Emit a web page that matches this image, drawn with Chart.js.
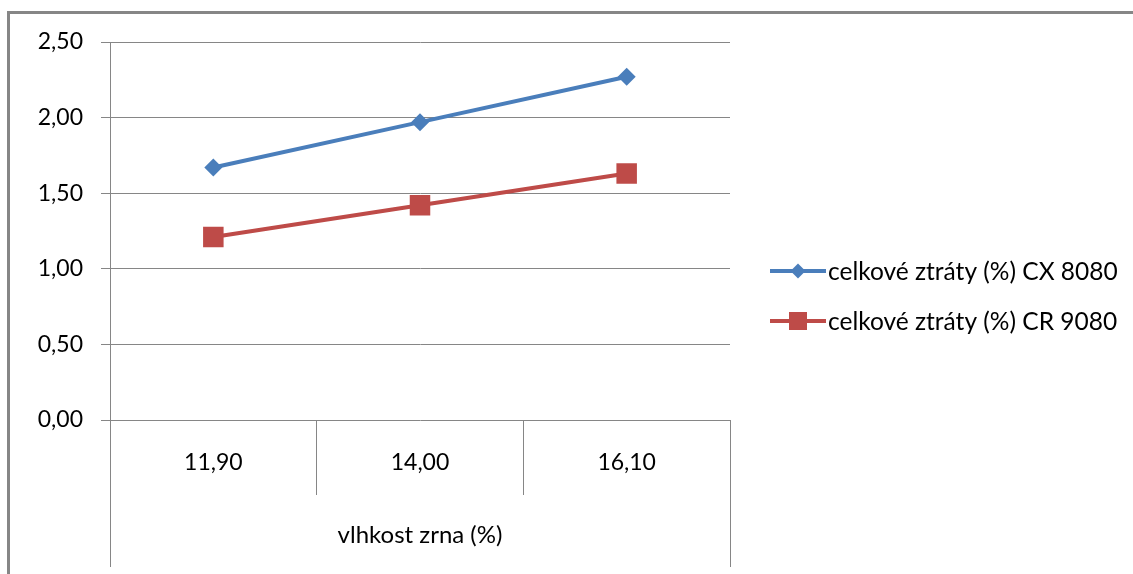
<!DOCTYPE html>
<html>
<head>
<meta charset="utf-8">
<title>celkové ztráty</title>
<script src="https://cdn.jsdelivr.net/npm/chart.js@4/dist/chart.umd.min.js"></script>
<style>
  html, body { margin: 0; padding: 0; background: #ffffff; }
  #wrap { width: 1133px; height: 574px; }
</style>
</head>
<body>
<div id="wrap"><canvas id="c" width="1133" height="574"></canvas></div>
<script>
// Categories: grain moisture (%)
const moisture = ['11,90', '14,00', '16,10'];
// Total losses (%) per combine harvester
const lossCX8080 = [1.67, 1.97, 2.27];
const lossCR9080 = [1.21, 1.42, 1.63];
const seriesNames = ['celkové ztráty (%) CX 8080', 'celkové ztráty (%) CR 9080'];
const xTitle = 'vlhkost zrna (%)';

const FONT = 'Lato, "Liberation Sans", sans-serif';
const GRID = '#868686';

// Outer frame, the full-height outer category lines and the side legend
const decorations = {
  id: 'decorations',
  beforeDraw(chart) {
    const ctx = chart.ctx;
    ctx.save();
    ctx.strokeStyle = GRID;
    ctx.lineWidth = 3;
    ctx.strokeRect(8.5, 12.5, 2000, 2000);
    ctx.restore();
  },
  afterDraw(chart) {
    const ctx = chart.ctx;
    const area = chart.chartArea;
    ctx.save();
    ctx.strokeStyle = GRID;
    ctx.lineWidth = 1;
    ctx.beginPath();
    [area.left, area.right].forEach(px => {
      const p = Math.round(px - 0.5) + 0.5;
      ctx.moveTo(p, area.bottom);
      ctx.lineTo(p, 567);
    });
    ctx.stroke();

    // legend
    const rows = [271, 321];
    chart.data.datasets.forEach((ds, i) => {
      const y = rows[i];
      ctx.strokeStyle = ds.borderColor;
      ctx.lineWidth = 4;
      ctx.beginPath();
      ctx.moveTo(770, y);
      ctx.lineTo(826, y);
      ctx.stroke();
      ctx.fillStyle = ds.backgroundColor;
      const cx = 798;
      if (ds.pointStyle === 'rectRot') {
        const r = 7.5;
        ctx.beginPath();
        ctx.moveTo(cx - r, y);
        ctx.lineTo(cx, y - r);
        ctx.lineTo(cx + r, y);
        ctx.lineTo(cx, y + r);
        ctx.closePath();
        ctx.fill();
      } else {
        const h = 9;
        ctx.fillRect(cx - h, y - h, 2 * h, 2 * h);
      }
      ctx.fillStyle = '#000000';
      ctx.font = '24.5px ' + FONT;
      ctx.textAlign = 'left';
      ctx.textBaseline = 'middle';
      ctx.fillText(ds.label, 828, y + 1);
    });
    ctx.restore();
  }
};

new Chart(document.getElementById('c'), {
  type: 'line',
  data: {
    labels: moisture,
    datasets: [
      {
        label: seriesNames[0],
        data: lossCX8080,
        borderColor: '#4A7EBB',
        backgroundColor: '#4A7EBB',
        borderWidth: 4,
        pointStyle: 'rectRot',
        pointRadius: 9,
        pointBorderWidth: 0,
        tension: 0
      },
      {
        label: seriesNames[1],
        data: lossCR9080,
        borderColor: '#BE4B48',
        backgroundColor: '#BE4B48',
        borderWidth: 4,
        pointStyle: 'rect',
        pointRadius: 14.5,
        pointBorderWidth: 0,
        tension: 0
      }
    ]
  },
  options: {
    responsive: false,
    animation: false,
    layout: { padding: { left: 0, top: 42, right: 403, bottom: 0 } },
    plugins: {
      legend: { display: false },
      tooltip: { enabled: false }
    },
    scales: {
      x: {
        offset: true,
        grid: {
          offset: true,
          drawOnChartArea: false,
          drawTicks: true,
          tickLength: 75,
          // outer boundaries are drawn full height by the decorations plugin
          color: c => (c.index === 0 || c.index === moisture.length) ? 'rgba(0,0,0,0)' : GRID,
          lineWidth: 1
        },
        border: { display: false },
        ticks: {
          color: '#000000',
          font: { family: FONT, size: 23 },
          padding: -46,
          maxRotation: 0
        },
        title: {
          display: true,
          text: xTitle,
          color: '#000000',
          font: { family: FONT, size: 24 },
          padding: { top: 0, bottom: 24 }
        },
        afterFit(scale) { scale.height = 154; }
      },
      y: {
        min: 0,
        max: 2.5,
        grid: {
          color: GRID,
          lineWidth: 1,
          drawTicks: true,
          tickLength: 9
        },
        border: { display: true, color: GRID, width: 1 },
        ticks: {
          stepSize: 0.5,
          color: '#000000',
          font: { family: FONT, size: 23 },
          padding: 18,
          callback: v => v.toFixed(2).replace('.', ',')
        },
        afterFit(scale) { scale.width = 110; }
      }
    }
  },
  plugins: [decorations]
});
</script>
</body>
</html>
